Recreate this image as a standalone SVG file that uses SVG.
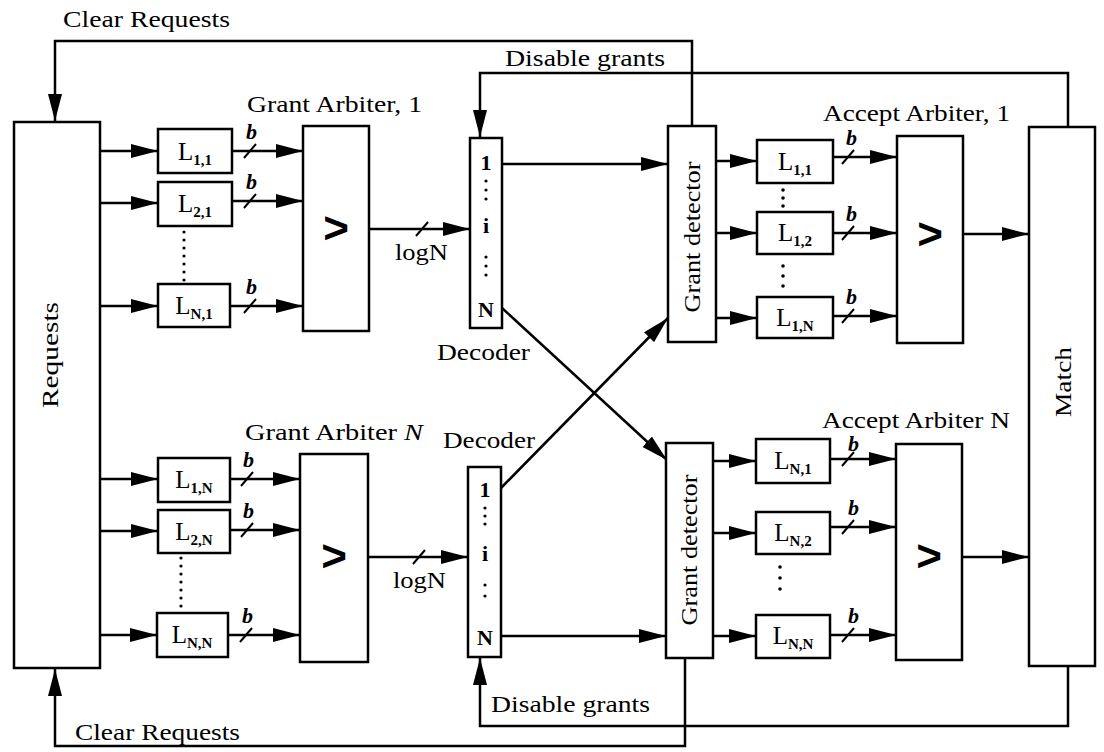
<svg xmlns="http://www.w3.org/2000/svg" width="1104" height="752" viewBox="0 0 1104 752">
<defs>
<style>
.box{fill:#fff;stroke:#000;stroke-width:2.5}
.ln{fill:none;stroke:#000;stroke-width:2.5}
.ar{fill:none;stroke:#000;stroke-width:2.5;marker-end:url(#ah)}
.sl{stroke:#000;stroke-width:2}
text{font-family:"Liberation Serif","Times New Roman",serif;fill:#000}
.t{font-size:24px}
.lb{font-size:25px;text-anchor:middle}
.sub{font-size:15px;font-weight:bold}
.b{font-size:22px;font-style:italic;font-weight:bold}
.gt{font-family:"Liberation Sans",Arial,sans-serif;font-size:44px;font-weight:bold;text-anchor:middle}
.dec{font-size:22px;text-anchor:middle;font-weight:bold}
.dot{fill:#000}
</style>
<marker id="ah" markerWidth="27" markerHeight="14" refX="27" refY="7" orient="auto" markerUnits="userSpaceOnUse">
<path d="M0,0 L27,7 L0,14 z" fill="#000"/>
</marker>
</defs>
<rect width="1104" height="752" fill="#fff"/>

<g id="connectors">
<polyline class="ar" points="692,126 692,41 55,41 55,121"/>
<polyline class="ar" points="1068,127 1068,73 480,73 480,137"/>
<polyline class="ar" points="1068,666 1068,726 480,726 480,658"/>
<polyline class="ar" points="685,658 685,746 55,746 55,669"/>
<line class="ar" x1="100" y1="151" x2="158" y2="151"/>
<line class="ar" x1="100" y1="203" x2="158" y2="203"/>
<line class="ar" x1="100" y1="306" x2="158" y2="306"/>
<line class="ar" x1="100" y1="479" x2="158" y2="479"/>
<line class="ar" x1="100" y1="531" x2="158" y2="531"/>
<line class="ar" x1="100" y1="635" x2="157" y2="635"/>
<line class="ar" x1="232" y1="151" x2="303" y2="151"/>
<line class="ar" x1="232" y1="201" x2="303" y2="201"/>
<line class="ar" x1="230" y1="306" x2="303" y2="306"/>
<line class="ar" x1="230" y1="479" x2="300" y2="479"/>
<line class="ar" x1="230" y1="530" x2="300" y2="530"/>
<line class="ar" x1="228" y1="635" x2="300" y2="635"/>
<line class="ar" x1="369" y1="229" x2="470" y2="229"/>
<line class="ar" x1="368" y1="557" x2="468" y2="557"/>
<line class="ar" x1="502" y1="164" x2="668" y2="164"/>
<line class="ar" x1="502" y1="308" x2="667" y2="460"/>
<line class="ar" x1="501" y1="488" x2="668" y2="318"/>
<line class="ar" x1="501" y1="636" x2="666" y2="636"/>
<line class="ar" x1="716" y1="161" x2="757" y2="161"/>
<line class="ar" x1="716" y1="233" x2="757" y2="233"/>
<line class="ar" x1="716" y1="318" x2="757" y2="318"/>
<line class="ar" x1="713" y1="461" x2="756" y2="461"/>
<line class="ar" x1="713" y1="533" x2="756" y2="533"/>
<line class="ar" x1="713" y1="636" x2="756" y2="636"/>
<line class="ar" x1="833" y1="157" x2="897" y2="157"/>
<line class="ar" x1="833" y1="233" x2="897" y2="233"/>
<line class="ar" x1="833" y1="316" x2="897" y2="316"/>
<line class="ar" x1="830" y1="459" x2="896" y2="459"/>
<line class="ar" x1="830" y1="527" x2="896" y2="527"/>
<line class="ar" x1="830" y1="635" x2="896" y2="635"/>
<line class="ar" x1="963" y1="234" x2="1029" y2="234"/>
<line class="ar" x1="962" y1="557" x2="1029" y2="557"/>
<g class="sl">
<line x1="244" y1="158" x2="256" y2="144"/>
<line x1="244" y1="208" x2="256" y2="194"/>
<line x1="244" y1="313" x2="256" y2="299"/>
<line x1="241" y1="486" x2="253" y2="472"/>
<line x1="241" y1="537" x2="253" y2="523"/>
<line x1="240" y1="642" x2="252" y2="628"/>
<line x1="416" y1="236" x2="428" y2="222"/>
<line x1="413" y1="564" x2="425" y2="550"/>
<line x1="842" y1="164" x2="854" y2="150"/>
<line x1="842" y1="240" x2="854" y2="226"/>
<line x1="842" y1="323" x2="854" y2="309"/>
<line x1="842" y1="466" x2="854" y2="452"/>
<line x1="842" y1="534" x2="854" y2="520"/>
<line x1="842" y1="642" x2="854" y2="628"/>
</g>
<g>
<text class="b" x="246" y="139">b</text>
<text class="b" x="246" y="189">b</text>
<text class="b" x="246" y="294">b</text>
<text class="b" x="243" y="467">b</text>
<text class="b" x="243" y="518">b</text>
<text class="b" x="242" y="623">b</text>
<text class="b" x="846" y="145">b</text>
<text class="b" x="846" y="221">b</text>
<text class="b" x="846" y="304">b</text>
<text class="b" x="848" y="451" font-size="20">b</text>
<text class="b" x="848" y="515">b</text>
<text class="b" x="848" y="623">b</text>
</g>
<g class="dot">
<circle cx="184" cy="232" r="1.6"/><circle cx="184" cy="240" r="1.6"/><circle cx="184" cy="248" r="1.6"/><circle cx="184" cy="256" r="1.6"/><circle cx="184" cy="264" r="1.6"/><circle cx="184" cy="272" r="1.6"/><circle cx="184" cy="280" r="1.6"/>
<circle cx="181" cy="558" r="1.6"/><circle cx="181" cy="566" r="1.6"/><circle cx="181" cy="574" r="1.6"/><circle cx="181" cy="582" r="1.6"/><circle cx="181" cy="590" r="1.6"/><circle cx="181" cy="598" r="1.6"/><circle cx="181" cy="606" r="1.6"/>
<circle cx="783" cy="190" r="1.8"/><circle cx="783" cy="198" r="1.8"/><circle cx="783" cy="206" r="1.8"/>
<circle cx="783" cy="266" r="1.8"/><circle cx="783" cy="276" r="1.8"/><circle cx="783" cy="286" r="1.8"/>
<circle cx="780" cy="567" r="1.8"/><circle cx="780" cy="578" r="1.8"/><circle cx="780" cy="589" r="1.8"/>
</g>
</g>

<g id="requests">
<rect class="box" x="14" y="122" width="86" height="546"/>
<text class="t" transform="translate(58,355) rotate(-90)" text-anchor="middle" textLength="106" lengthAdjust="spacingAndGlyphs">Requests</text>
</g>

<g id="match">
<rect class="box" x="1029" y="127" width="66" height="539"/>
<text class="t" transform="translate(1071,382) rotate(-90)" text-anchor="middle" textLength="70" lengthAdjust="spacingAndGlyphs">Match</text>
</g>

<g id="labels">
<text class="t" x="63" y="27" textLength="167" lengthAdjust="spacingAndGlyphs">Clear Requests</text>
<text class="t" x="505" y="66" textLength="160" lengthAdjust="spacingAndGlyphs">Disable grants</text>
<text class="t" x="247" y="112" textLength="175" lengthAdjust="spacingAndGlyphs">Grant Arbiter, 1</text>
<text class="t" x="823" y="121" textLength="187" lengthAdjust="spacingAndGlyphs">Accept Arbiter, 1</text>
<text class="t" x="437" y="360" textLength="93" lengthAdjust="spacingAndGlyphs">Decoder</text>
<text class="t" x="245" y="440" textLength="178" lengthAdjust="spacingAndGlyphs">Grant Arbiter <tspan font-style="italic">N</tspan></text>
<text class="t" x="443" y="448" textLength="92" lengthAdjust="spacingAndGlyphs">Decoder</text>
<text class="t" x="822" y="428" textLength="188" lengthAdjust="spacingAndGlyphs">Accept Arbiter N</text>
<text class="t" x="491" y="712" textLength="159" lengthAdjust="spacingAndGlyphs">Disable grants</text>
<text class="t" x="75" y="740" textLength="165" lengthAdjust="spacingAndGlyphs">Clear Requests</text>
<text class="t" x="395" y="260" textLength="53" lengthAdjust="spacingAndGlyphs">logN</text>
<text class="t" x="393" y="588" textLength="53" lengthAdjust="spacingAndGlyphs">logN</text>
</g>

<g id="L11a"><rect class="box" x="158" y="129" width="74" height="44"/><text class="lb" x="195" y="160">L<tspan class="sub" dy="5">1,1</tspan></text></g>
<g id="L21a"><rect class="box" x="158" y="182" width="74" height="44"/><text class="lb" x="195" y="212">L<tspan class="sub" dy="5">2,1</tspan></text></g>
<g id="LN1a"><rect class="box" x="158" y="284" width="72" height="43"/><text class="lb" x="194" y="314">L<tspan class="sub" dy="5">N,1</tspan></text></g>
<g id="L1Na"><rect class="box" x="158" y="458" width="72" height="44"/><text class="lb" x="194" y="488">L<tspan class="sub" dy="5">1,N</tspan></text></g>
<g id="L2Na"><rect class="box" x="158" y="510" width="72" height="43"/><text class="lb" x="194" y="540">L<tspan class="sub" dy="5">2,N</tspan></text></g>
<g id="LNNa"><rect class="box" x="157" y="613" width="71" height="44"/><text class="lb" x="192" y="643">L<tspan class="sub" dy="5">N,N</tspan></text></g>

<g id="grantArb1"><rect class="box" x="303" y="126" width="66" height="205"/><text class="gt" x="336" y="243">&gt;</text></g>
<g id="grantArbN"><rect class="box" x="300" y="454" width="68" height="208"/><text class="gt" x="334" y="571">&gt;</text></g>

<g id="decoder1">
<rect class="box" x="470" y="138" width="32" height="190"/>
<text class="dec" x="486" y="170">1</text>
<circle class="dot" cx="486" cy="181" r="1.6"/><circle class="dot" cx="486" cy="190" r="1.6"/><circle class="dot" cx="486" cy="199" r="1.6"/>
<text class="dec" x="486" y="233">i</text>
<circle class="dot" cx="486" cy="257" r="1.6"/><circle class="dot" cx="486" cy="266" r="1.6"/><circle class="dot" cx="486" cy="275" r="1.6"/>
<text class="dec" x="486" y="317">N</text>
</g>
<g id="decoder2">
<rect class="box" x="468" y="467" width="33" height="190"/>
<text class="dec" x="485" y="497">1</text>
<circle class="dot" cx="485" cy="508" r="1.6"/><circle class="dot" cx="485" cy="516" r="1.6"/><circle class="dot" cx="485" cy="524" r="1.6"/>
<text class="dec" x="485" y="561">i</text>
<circle class="dot" cx="485" cy="585" r="1.6"/><circle class="dot" cx="485" cy="596" r="1.6"/>
<text class="dec" x="485" y="645">N</text>
</g>

<g id="grantDet1"><rect class="box" x="668" y="126" width="48" height="216"/><text class="t" transform="translate(700,237) rotate(-90)" text-anchor="middle" textLength="151" lengthAdjust="spacingAndGlyphs">Grant detector</text></g>
<g id="grantDetN"><rect class="box" x="666" y="443" width="47" height="215"/><text class="t" transform="translate(697,550) rotate(-90)" text-anchor="middle" textLength="151" lengthAdjust="spacingAndGlyphs">Grant detector</text></g>

<g id="L11b"><rect class="box" x="757" y="140" width="76" height="43"/><text class="lb" x="795" y="170">L<tspan class="sub" dy="5">1,1</tspan></text></g>
<g id="L12b"><rect class="box" x="757" y="212" width="76" height="42"/><text class="lb" x="795" y="241">L<tspan class="sub" dy="5">1,2</tspan></text></g>
<g id="L1Nb"><rect class="box" x="757" y="297" width="76" height="41"/><text class="lb" x="795" y="326">L<tspan class="sub" dy="5">1,N</tspan></text></g>
<g id="LN1b"><rect class="box" x="756" y="439" width="74" height="44"/><text class="lb" x="793" y="469">L<tspan class="sub" dy="5">N,1</tspan></text></g>
<g id="LN2b"><rect class="box" x="756" y="512" width="74" height="42"/><text class="lb" x="793" y="541">L<tspan class="sub" dy="5">N,2</tspan></text></g>
<g id="LNNb"><rect class="box" x="756" y="615" width="74" height="43"/><text class="lb" x="793" y="644">L<tspan class="sub" dy="5">N,N</tspan></text></g>

<g id="acceptArb1"><rect class="box" x="897" y="136" width="66" height="207"/><text class="gt" x="930" y="249">&gt;</text></g>
<g id="acceptArbN"><rect class="box" x="896" y="444" width="66" height="216"/><text class="gt" x="929" y="571">&gt;</text></g>
</svg>
